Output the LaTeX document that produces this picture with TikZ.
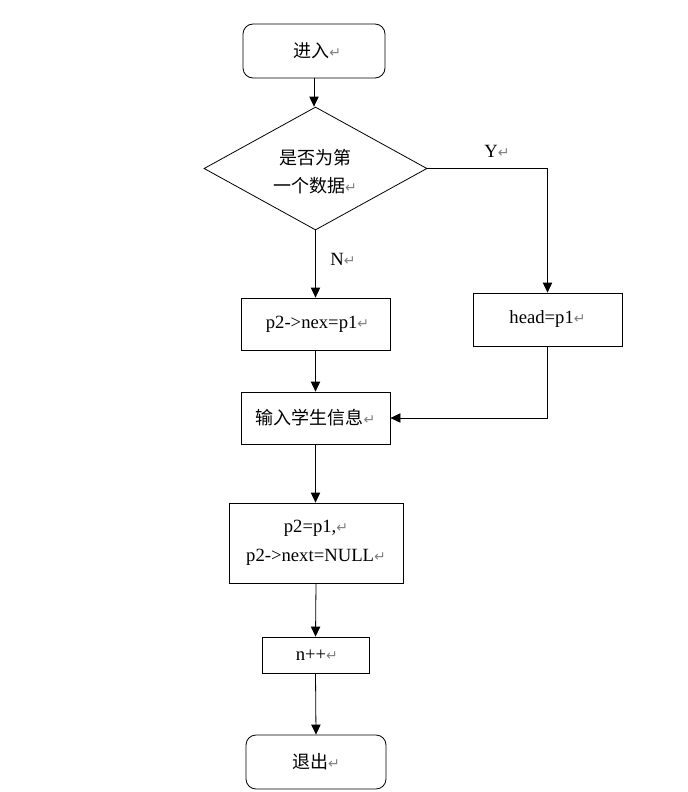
\documentclass[tikz,border=0pt]{standalone}
\usepackage{fontspec}
\setmainfont{Liberation Serif}
\newfontfamily\cjk{Noto Sans CJK SC}
\newfontfamily\dejavu{DejaVu Sans}
\usetikzlibrary{shapes.geometric,arrows.meta}
\newcommand\pmk{{\color{gray}\dejavu\fontsize{10.5}{10}\selectfont ↵}}
\tikzset{
  box/.style={draw, line width=0.6pt, inner sep=0pt, align=center, font=\fontsize{14}{21.75}\selectfont},
  term/.style={box, rounded corners=7.5pt},
  lbl/.style={inner sep=0pt, font=\fontsize{14}{16}\selectfont},
  arr/.style={draw, line width=0.6pt, -{Triangle[length=7.5pt,width=7pt]}}
}
\begin{document}
\begin{tikzpicture}[x=0.75pt,y=-0.75pt]
\useasboundingbox (0,0) rectangle (687,792);
\node[term, minimum width=106.5pt, minimum height=40.5pt] (start) at (314,51) {\hspace*{5pt}{\cjk\fontsize{13.5}{16}\selectfont 进入}\pmk};
\node[draw, line width=0.6pt, diamond, inner sep=0pt, minimum width=167.25pt, minimum height=92.25pt] (dec) at (315.5,168.5) {};
\node[lbl, align=center, font=\cjk\fontsize{13.5}{21}\selectfont] (dectext) at (315,172) {是否为第\\一个数据\pmk};
\node[box, minimum width=111.75pt, minimum height=39.75pt] (head) at (547.5,319.5) {head=p1\pmk};
\node[box, minimum width=111.75pt, minimum height=39pt] (nex) at (315.5,324) {\hspace*{3pt}p2-\textgreater nex=p1\pmk};
\node[box, minimum width=111.75pt, minimum height=39pt] (input) at (315.5,418) {{\cjk\fontsize{13.5}{16}\selectfont 输入学生信息}\pmk};
\node[box, minimum width=130.5pt, minimum height=60pt] (assign) at (316,543) {p2=p1,\pmk\\p2-\textgreater next=NULL\pmk};
\node[box, minimum width=80.25pt, minimum height=27pt] (npp) at (315.5,655) {\hspace*{2pt}n++\pmk};
\node[term, minimum width=105pt, minimum height=40.5pt] (stop) at (316,762) {{\cjk\fontsize{13.5}{16}\selectfont 退出}\pmk};
\node[lbl] (ylbl) at (497,151) {Y\pmk};
\node[lbl] (nlbl) at (343,259) {N\pmk};
\draw[arr] (start.south) -- (start.south |- dec.north);
\draw[arr] (dec.east) -| (head.north);
\draw[arr] (dec.south) -- (nex.north);
\draw[arr] (nex.south) -- (input.north);
\draw[arr] (head.south) |- (input.east);
\draw[arr] (input.south) -- (assign.north -| input.south);
\draw[arr] (assign.south) -- (npp.north);
\draw[arr] (npp.south) -- (stop.north);
\end{tikzpicture}
\end{document}
